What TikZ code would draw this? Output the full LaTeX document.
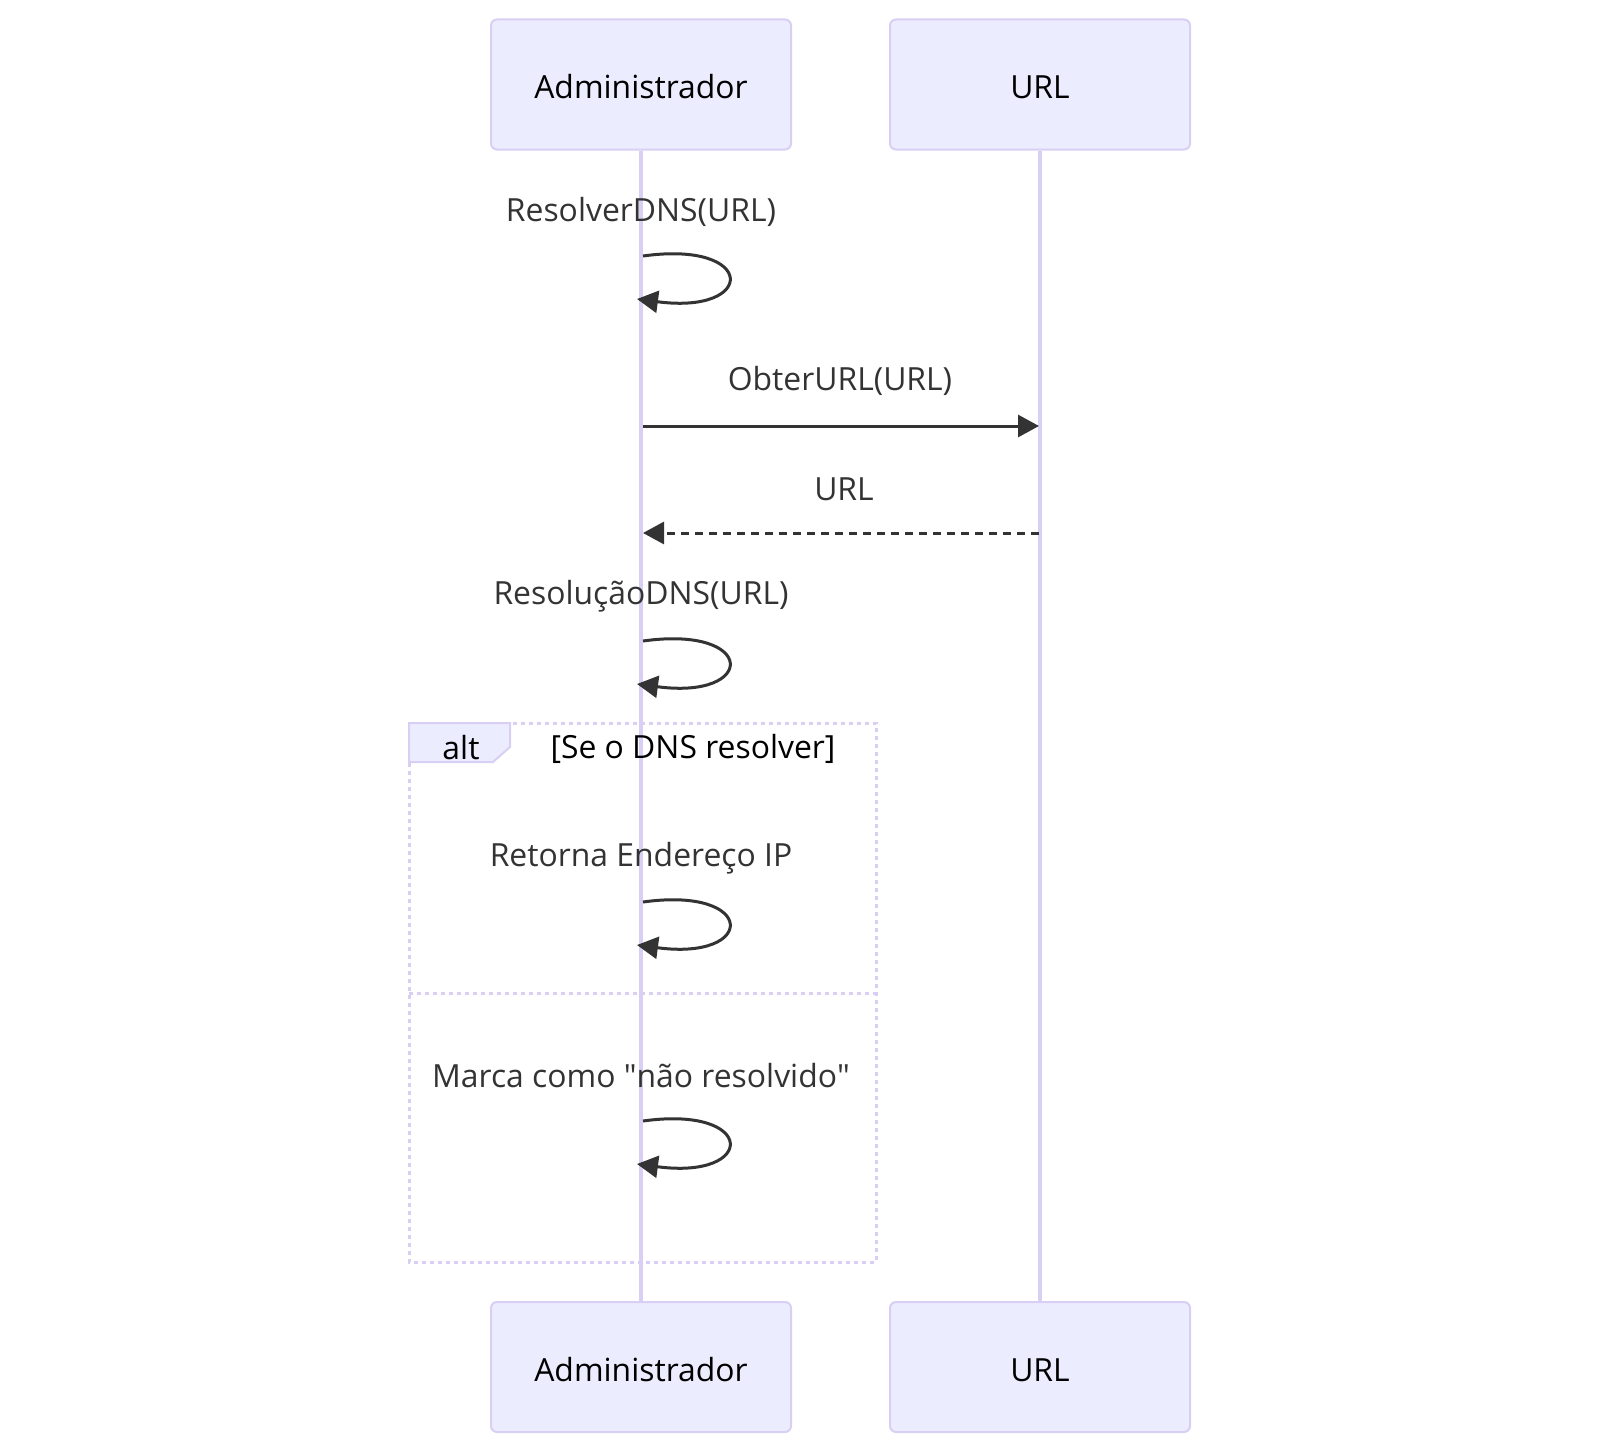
\documentclass[tikz,border=0pt]{standalone}
\usepackage{fontspec}
\setmainfont{Open Sans}
\usetikzlibrary{arrows.meta}
\definecolor{actorfill}{HTML}{ECECFF}
\definecolor{actorline}{HTML}{D9CEF3}
\definecolor{msgcol}{HTML}{333333}
\tikzset{
  actor/.style={draw=actorline,fill=actorfill,line width=1bp,rounded corners=3bp,
    minimum width=150bp,minimum height=65bp,font=\fontsize{16}{19}\selectfont,text=black,
    text height=14bp,text depth=0pt},
  lifeline/.style={draw=actorline,line width=1.6bp},
  msg/.style={draw=msgcol,line width=1.5bp,-{Triangle[length=10.5bp,width=11bp]}},
  msgtext/.style={text=msgcol,font=\fontsize{16}{19}\selectfont},
  frame/.style={draw=actorline,line width=1.5bp,dash pattern=on 2bp off 2bp},
}
\begin{document}
\begin{tikzpicture}[x=0.5bp,y=-0.5bp]
  \useasboundingbox (0,0) rectangle (1600,1454);
  %% participants
  \node[actor] (adminTop) at (641,84.5) {Administrador};
  \node[actor] (urlTop) at (1040,84.5) {URL};
  \node[actor] (adminBot) at (641,1367) {Administrador};
  \node[actor] (urlBot) at (1040,1367) {URL};
  \draw[lifeline] (adminTop) -- (adminBot);
  \draw[lifeline] (urlTop) -- (urlBot);
  %% alt frame
  \draw[frame] (409,723) rectangle (876,1262);
  \draw[frame] (409,993) -- (876,993);
  \draw[draw=actorline,fill=actorfill,line width=1bp] (409,723) -- (510,723) -- (510,747) -- (493,762) -- (409,762) -- cycle;
  \node[font=\fontsize{16}{19}\selectfont] (altLabel) at (461,748) {alt};
  \node[font=\fontsize{16}{19}\selectfont] (altCond) at (693,749) {[Se o DNS resolver]};
  %% messages
  \node[msgtext] (t1) at (641,212) {ResolverDNS(URL)};
  \coordinate (l1s) at (643,256);
  \coordinate (l1e) at (637,299);
  \draw[msg] (l1s) .. controls (757,240) and (757,315) .. (l1e);
  \node[msgtext] (t2) at (840,381) {ObterURL(URL)};
  \coordinate (a2) at (643,426);
  \coordinate (u2) at (1039,426);
  \draw[msg] (a2) -- (u2);
  \node[msgtext] (t3) at (844,489) {URL};
  \coordinate (u3) at (1039,533);
  \coordinate (a3) at (643,533);
  \draw[msg,dash pattern=on 4bp off 3bp] (u3) -- (a3);
  \node[msgtext] (t4) at (641,596) {ResoluçãoDNS(URL)};
  \coordinate (l4s) at (643,641);
  \coordinate (l4e) at (637,684);
  \draw[msg] (l4s) .. controls (757,625) and (757,700) .. (l4e);
  \node[msgtext] (t5) at (641,858) {Retorna Endereço IP};
  \coordinate (l5s) at (643,902);
  \coordinate (l5e) at (637,945);
  \draw[msg] (l5s) .. controls (757,886) and (757,961) .. (l5e);
  \node[msgtext] (t6) at (641,1076) {Marca como \textquotedbl não resolvido\textquotedbl};
  \coordinate (l6s) at (643,1121);
  \coordinate (l6e) at (637,1164);
  \draw[msg] (l6s) .. controls (757,1105) and (757,1180) .. (l6e);
\end{tikzpicture}
\end{document}
